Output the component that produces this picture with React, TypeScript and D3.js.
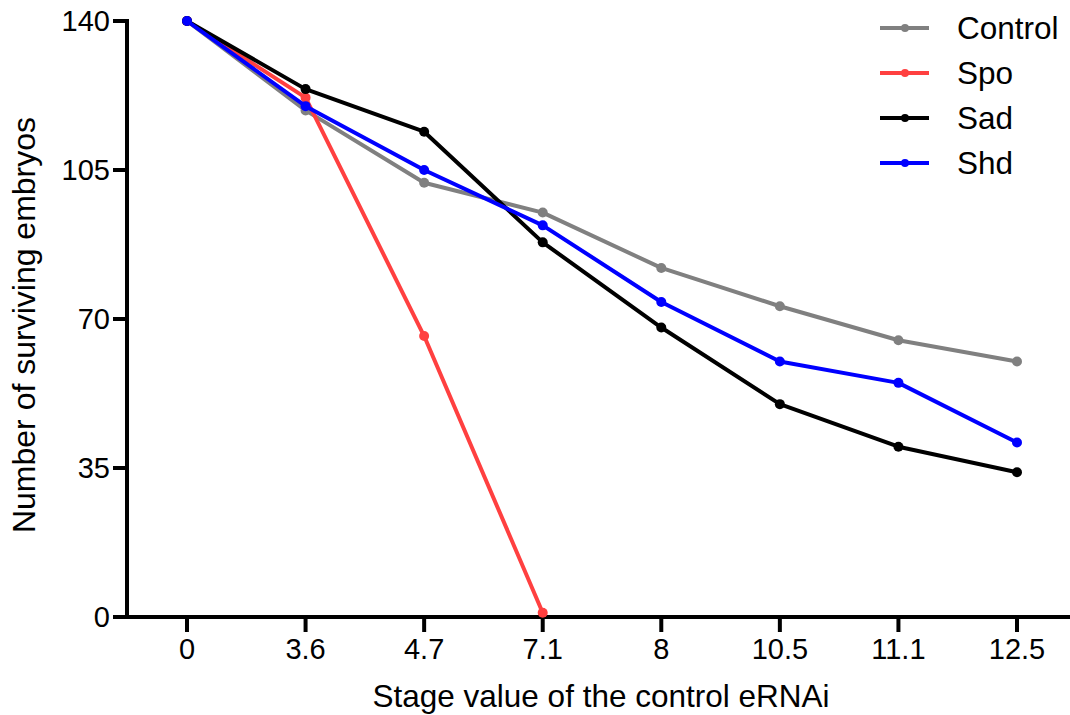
import React from "react";
import * as d3 from "d3";

const stages = ["0", "3.6", "4.7", "7.1", "8", "10.5", "11.1", "12.5"];
const controlValues = [140, 119, 102, 95, 82, 73, 65, 60];
const spoValues = [140, 122, 66, 1];
const sadValues = [140, 124, 114, 88, 68, 50, 40, 34];
const shdValues = [140, 120, 105, 92, 74, 60, 55, 41];
const yTicks = [0, 35, 70, 105, 140];
const seriesNames = ["Control", "Spo", "Sad", "Shd"];
const seriesColors = ["#808080", "#ff4040", "#000000", "#0000ff"];

const W = 1070;
const H = 715;
const FONT = "'Liberation Sans', Arial, sans-serif";

export default function App() {
  const x = d3.scalePoint<string>().domain(stages).range([187, 1017]);
  const y = d3.scaleLinear().domain([0, 140]).range([617, 21]);
  const series = [controlValues, spoValues, sadValues, shdValues];
  const line = d3
    .line<number>()
    .x((_, i) => x(stages[i]) as number)
    .y((d) => y(d));

  return (
    <svg
      width={W}
      height={H}
      style={{ position: "absolute", left: 0, top: 0, background: "#fff" }}
      fontFamily={FONT}
    >
      {/* Y axis */}
      <line x1={127} x2={127} y1={y(140) - 2} y2={y(0) + 2} stroke="#000" strokeWidth={4} />
      {yTicks.map((t) => (
        <g key={t}>
          <line x1={113} x2={127} y1={y(t)} y2={y(t)} stroke="#000" strokeWidth={4} />
          <text x={110} y={y(t)} dy="0.36em" textAnchor="end" fontSize={29} fill="#000">
            {t}
          </text>
        </g>
      ))}
      {/* X axis */}
      <line x1={113} x2={W} y1={y(0)} y2={y(0)} stroke="#000" strokeWidth={4} />
      {stages.map((s) => (
        <g key={s}>
          <line x1={x(s)} x2={x(s)} y1={y(0)} y2={632} stroke="#000" strokeWidth={4} />
          <text x={x(s)} y={659} textAnchor="middle" fontSize={29} fill="#000">
            {s}
          </text>
        </g>
      ))}
      <text x={601} y={707} textAnchor="middle" fontSize={31.5} fill="#000">
        Stage value of the control eRNAi
      </text>
      <text
        transform={`translate(35, 325) rotate(-90)`}
        textAnchor="middle"
        fontSize={32}
        fill="#000"
      >
        Number of surviving embryos
      </text>
      {/* Series */}
      {series.map((vals, si) => (
        <g key={seriesNames[si]}>
          <path d={line(vals) || ""} fill="none" stroke={seriesColors[si]} strokeWidth={4} strokeLinejoin="round" />
          {vals.map((v, i) => (
            <circle key={i} cx={x(stages[i])} cy={y(v)} r={5} fill={seriesColors[si]} />
          ))}
        </g>
      ))}
      {/* Legend */}
      {seriesNames.map((n, i) => {
        const ly = 28 + i * 45;
        return (
          <g key={n}>
            <line x1={880} x2={929} y1={ly} y2={ly} stroke={seriesColors[i]} strokeWidth={4} />
            <circle cx={905} cy={ly} r={4} fill={seriesColors[i]} />
            <text x={957} y={ly} dy="0.36em" fontSize={31.5} fill="#000">
              {n}
            </text>
          </g>
        );
      })}
    </svg>
  );
}
